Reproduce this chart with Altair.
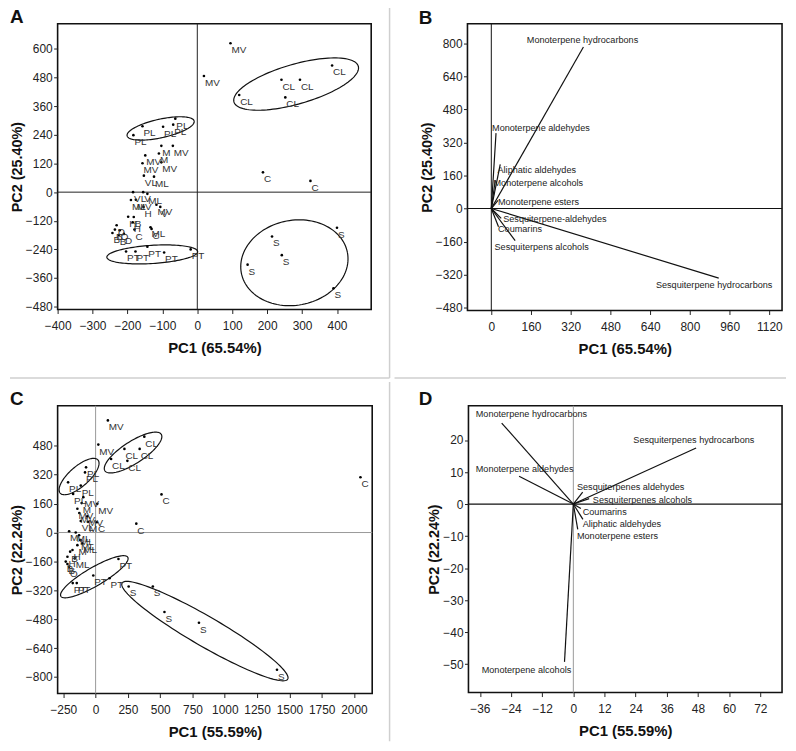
import altair as alt
import numpy as np
import pandas as pd

FONT = "Liberation Sans"

# ---------------- Panel A : PCA scores ----------------
a_x = [95, 19, 386, 241, 294, 120, 252, 188, 324,
       400, 214, 242, 144, 390,
       -204, -177, -143, -95, -19,
       -63, -69, -98, -157, -183,
       -103, -70, -110, -149, -157, -103, -153, -124,
       -184, -155, -143, -190, -176, -117, -106, -154,
       -198, -182, -185, -134, -131, -180, -236, -231, -243, -222, -210, -225]
a_y = [624, 487, 531, 471, 471, 407, 397, 83, 47,
       -149, -186, -264, -304, -403,
       -249, -249, -229, -253, -240,
       308, 283, 274, 276, 239,
       194, 194, 162, 154, 121, 125, 69, 65,
       0, 0, -7, -33, -32, -53, -62, -62,
       -103, -104, -126, -147, -154, -157, -157, -139, -171, -160, -175, -180]
a_lab = ["MV", "MV", "CL", "CL", "CL", "CL", "CL", "C", "C",
         "S", "S", "S", "S", "S",
         "PT", "PT", "PT", "PT", "PT",
         "PL", "PL", "PL", "PL", "PL",
         "M", "MV", "M", "MV", "MV", "MV", "VL", "ML",
         "VL", "V", "ML", "ML", "MV", "MV", "V", "H",
         "H", "B", "H", "ML", "C", "C", "B", "D", "B", "O", "D", "B"]
# ellipses: centre, first and second semi-axis vectors (data units)
a_ell_cx = [283, 278, -105, -129]
a_ell_cy = [453, -296, 267, -261]
a_ell_ux = [178, 152, 96, 130]
a_ell_uy = [75, 42, 31, 12]
a_ell_vx = [16, 22, 6, 2]
a_ell_vy = [-80, -175, -38, -38]

# ---------------- Panel B : loadings ----------------
b_names = ["Monoterpene hydrocarbons", "Monoterpene aldehydes", "Aliphatic aldehydes",
           "Monoterpene alcohols", "Monoterpene esters", "Sesquiterpene-aldehydes",
           "Coumarins", "Sesquiterpens alcohols", "Sesquiterpene hydrocarbons"]
b_x = [371, 19, 36, 16, 27, 40, 29, 96, 916]
b_y = [782, 365, 214, 137, 40, -48, -88, -156, -337]
b_lx = [143, 3, 25, 9, 27, 48, 27, 13, 663]
b_ly = [816, 389, 186, 125, 31, -51, -98, -188, -369]

# ---------------- Panel C : PCA scores ----------------
c_x = [95, 21, 377, 223, 341, 120, 246, 2050, 510, 315, 10,
       256, 443, 533, 800, 1404,
       177, 108, -18, -146, -177,
       -74, -82, -115, -213, -174,
       -95, 13, -108, -141, -126, -115, -59, -64,
       -205, -154, -128, -120, -141, -179, -197, -218, -231, -205, -161, -218, -103]
c_y = [621, 487, 531, 463, 463, 407, 397, 306, 211, 49, 57,
       -299, -299, -440, -500, -760,
       -147, -253, -238, -280, -280,
       361, 333, 260, 278, 214,
       196, 159, 163, 132, 108, 64, 59, 90,
       7, 0, -15, -42, -70, -97, -106, -134, -161, -189, -143, -175, -60]
c_lab = ["MV", "MV", "CL", "CL", "CL", "CL", "CL", "C", "C", "C", "C",
         "S", "S", "S", "S", "S",
         "PT", "PT", "PT", "PT", "PT",
         "PL", "PL", "PL", "PL", "PL",
         "MV", "MV", "M", "MV", "MV", "VL", "M", "MV",
         "M", "ML", "ML", "ML", "M", "H", "B", "H", "B", "O", "ML", "B", "ML"]
c_ell_cx = [290, -128, -10, 846]
c_ell_cy = [443, 310, -245, -546]
c_ell_ux = [218, 146, 259, 641]
c_ell_uy = [101, 92, 108, -266]
c_ell_vx = [46, 51, 36, -58]
c_ell_vy = [-51, -41, -44, -71]

# ---------------- Panel D : loadings ----------------
d_names = ["Monoterpene hydrocarbons", "Sesquiterpenes hydrocarbons", "Monoterpene aldehydes",
           "Sesquiterpenes aldehydes", "Sesquiterpenes alcohols", "Coumarins",
           "Aliphatic aldehydes", "Monoterpene esters", "Monoterpene alcohols"]
d_x = [-27.6, 47.3, -20.9, 3.6, 6.1, 2.9, 3.7, 1.7, -3.4]
d_y = [25.3, 17.5, 8.7, 3.7, 1.7, -1.4, -4.8, -7.9, -49.3]
d_lx = [-37.6, 23.1, -37.6, 1.4, 7.5, 3.6, 3.6, 1.4, -35.3]
d_ly = [28.1, 19.9, 10.8, 5.4, 1.4, -2.4, -6.3, -10.1, -51.7]

GRID = "#cfcfcf"


def ellipse_df(cx, cy, ux, uy, vx, vy):
    t = np.linspace(0, 2 * np.pi, 121)
    frames = []
    for i in range(len(cx)):
        frames.append(pd.DataFrame({
            "id": i,
            "o": np.arange(len(t)),
            "x": cx[i] + ux[i] * np.cos(t) + vx[i] * np.sin(t),
            "y": cy[i] + uy[i] * np.cos(t) + vy[i] * np.sin(t),
        }))
    return pd.concat(frames, ignore_index=True)


def enc(xdom, ydom, xt, yt, xtitle, ytitle):
    X = alt.X("x:Q", scale=alt.Scale(domain=xdom, nice=False, zero=False),
              axis=alt.Axis(values=xt, format="d"), title=xtitle)
    Y = alt.Y("y:Q", scale=alt.Scale(domain=ydom, nice=False, zero=False),
              axis=alt.Axis(values=yt, format="d"), title=ytitle)
    return X, Y


def title(letter, dx, offset):
    return alt.TitleParams(letter, anchor="start", frame="group", fontSize=19,
                           fontWeight="bold", font=FONT, color="#111", offset=offset, dx=dx)


def cell(box, hline=None, vline=None):
    """invisible cell box (fixes the panel's extent) plus grey panel dividers"""
    one = pd.DataFrame({"k": [0]})
    layers = [alt.Chart(one).mark_rect(color="#fff", fillOpacity=0, strokeOpacity=0).encode(
        x=alt.value(box[0]), x2=alt.value(box[1]), y=alt.value(box[2]), y2=alt.value(box[3]))]
    if hline is not None:
        layers.append(alt.Chart(one).mark_rule(color=GRID, strokeWidth=1.5).encode(
            x=alt.value(hline[0]), x2=alt.value(hline[1]), y=alt.value(hline[2])))
    if vline is not None:
        layers.append(alt.Chart(one).mark_rule(color=GRID, strokeWidth=1.5).encode(
            x=alt.value(vline[0]), y=alt.value(vline[1]), y2=alt.value(vline[2])))
    return layers


def scatter_panel(letter, dx, toff, size, frame_layers, xs, ys, labs, ell, xdom, ydom, xt, yt,
                  xtitle, ytitle, zcol):
    X, Y = enc(xdom, ydom, xt, yt, xtitle, ytitle)
    pts = pd.DataFrame({"x": xs, "y": ys, "lab": labs})
    zero = pd.DataFrame({"x": [0], "y": [0]})
    vrule = alt.Chart(zero).mark_rule(color=zcol, strokeWidth=1).encode(x=X)
    hrule = alt.Chart(zero).mark_rule(color=zcol, strokeWidth=1).encode(y=Y)
    ells = alt.Chart(ellipse_df(*ell)).mark_line(color="#111", strokeWidth=1.2).encode(
        x=X, y=Y, detail="id:N", order="o:Q")
    dots = alt.Chart(pts).mark_circle(size=7, color="#000", opacity=1).encode(x=X, y=Y)
    txt = alt.Chart(pts).mark_text(align="left", baseline="middle", dx=1, dy=7,
                                   fontSize=10, font=FONT, color="#333").encode(
        x=X, y=Y, text="lab:N")
    return alt.layer(*frame_layers, vrule, hrule, ells, dots, txt).properties(
        width=size[0], height=size[1], title=title(letter, dx, toff))


def biplot_panel(letter, dx, toff, size, frame_layers, names, ex, ey, lx, ly, xdom, ydom,
                 xt, yt, xtitle, ytitle, vcol, hcol):
    X, Y = enc(xdom, ydom, xt, yt, xtitle, ytitle)
    vec = pd.DataFrame({"x": ex, "y": ey, "x0": [0] * len(ex), "y0": [0] * len(ey)})
    labs = pd.DataFrame({"x": lx, "y": ly, "name": names})
    zero = pd.DataFrame({"x": [0], "y": [0]})
    vrule = alt.Chart(zero).mark_rule(color=vcol, strokeWidth=1).encode(x=X)
    hrule = alt.Chart(zero).mark_rule(color=hcol, strokeWidth=1.2).encode(y=Y)
    lines = alt.Chart(vec).mark_rule(color="#111", strokeWidth=1.2).encode(
        x=X, y=Y, x2="x0:Q", y2="y0:Q")
    txt = alt.Chart(labs).mark_text(align="left", baseline="middle", fontSize=9.2,
                                    font=FONT, color="#222").encode(x=X, y=Y, text="name:N")
    return alt.layer(*frame_layers, vrule, hrule, lines, txt).properties(
        width=size[0], height=size[1], title=title(letter, dx, toff))


# cell boxes relative to each plot area: (x, x2, y, y2)
A = scatter_panel("A", -48, -22.5, (316, 288),
                  cell((-48, 334.5, -18, 357), hline=(-48, 334.5, 357), vline=(334.5, -18, 357)),
                  a_x, a_y, a_lab,
                  (a_ell_cx, a_ell_cy, a_ell_ux, a_ell_uy, a_ell_vx, a_ell_vy),
                  [-400, 498], [-492, 706],
                  list(range(-400, 401, 100)), list(range(-480, 601, 120)),
                  "PC1 (65.54%)", "PC2 (25.40%)", "#222")
B = biplot_panel("B", -49, -22.5, (317, 289),
                 cell((-73.5, 321, -18, 357), hline=(-73.5, 321, 357)),
                 b_names, b_x, b_y, b_lx, b_ly,
                 [-96, 1171], [-494, 895],
                 list(range(0, 1121, 160)), list(range(-480, 801, 160)),
                 "PC1 (65.54%)", "PC2 (25.40%)", "#111", "#111")
C = scatter_panel("C", -48, -27.5, (317, 290),
                  cell((-48, 334.5, -24, 338), vline=(334.5, -24, 338)),
                  c_x, c_y, c_lab,
                  (c_ell_cx, c_ell_cy, c_ell_ux, c_ell_uy, c_ell_vx, c_ell_vy),
                  [-294, 2141], [-892, 702],
                  list(range(-250, 2001, 250)), list(range(-800, 481, 160)),
                  "PC1 (55.59%)", "PC2 (22.24%)", "#999")
D = biplot_panel("D", -50, -27.5, (316, 289),
                 cell((-76, 320.5, -24, 338)),
                 d_names, d_x, d_y, d_lx, d_ly,
                 [-40.4, 80.4], [-58.9, 30.7],
                 list(range(-36, 73, 12)), list(range(-50, 21, 10)),
                 "PC1 (55.59%)", "PC2 (22.24%)", "#999", "#111")

chart = alt.vconcat(
    alt.hconcat(A, B, spacing=0),
    alt.hconcat(C, D, spacing=0),
    spacing=0,
).properties(
    padding={"top": -7, "left": 0, "right": 0, "bottom": 0}, background="white"
).configure_view(
    stroke="#111", strokeWidth=1.6
).configure_axis(
    grid=False, domain=False, ticks=True, tickSize=4, tickColor="#222", tickWidth=1,
    labelFont=FONT, labelFontSize=12, labelColor="#222",
    labelFlush=False, labelOverlap=False,
    titleFont=FONT, titleFontWeight="bold", titleColor="#111",
).configure_axisX(
    titlePadding=9, labelPadding=7, titleFontSize=15
).configure_axisY(
    titlePadding=1, labelPadding=1.5, titleFontSize=14.5
)

chart.save("out.html", embed_options={"renderer": "svg", "actions": False})
